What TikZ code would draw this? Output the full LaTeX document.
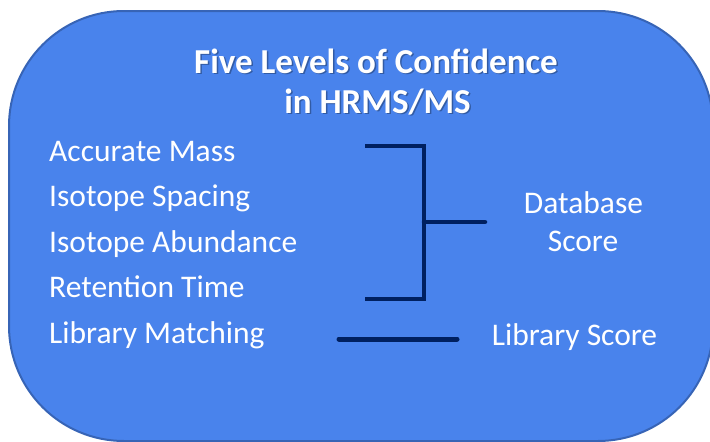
\documentclass[tikz,border=0pt]{standalone}
\usepackage{fontspec}
\setmainfont{Carlito}
\definecolor{boxfill}{RGB}{73,131,236}
\definecolor{boxedge}{RGB}{55,100,182}
\definecolor{navy}{RGB}{0,32,96}
\tikzset{
  item/.style={anchor=base west, inner sep=0pt, text=white, font=\fontsize{31.5}{36}\selectfont},
  score/.style={anchor=base, inner sep=0pt, text=white, align=center, font=\fontsize{31.5}{38}\selectfont},
  ttl/.style={anchor=base, inner sep=0pt, text=white, font=\bfseries\fontsize{35}{40}\selectfont},
  ttlshadow/.style={anchor=base, inner sep=0pt, text=black, opacity=0.3, font=\bfseries\fontsize{35}{40}\selectfont},
  link/.style={draw=navy, line width=4.5pt, line cap=round, line join=miter},
}
\begin{document}
\begin{tikzpicture}[x=1pt,y=-1pt]
\useasboundingbox (0,0) rectangle (710,442);
\clip (0,0) rectangle (710,442);
\draw[fill=boxfill, draw=boxedge, line width=2pt, rounded corners=115pt] (9,11) rectangle (713,441);
% title
\node[ttlshadow] (t1s) at (377.5,74.5) {Five Levels of Confidence};
\node[ttlshadow] (t2s) at (379,114.5) {in HRMS/MS};
\node[ttl] (t1) at (376,73) {Five Levels of Confidence};
\node[ttl] (t2) at (377.5,113) {in HRMS/MS};
% items
\node[item] (am) at (49,161) {Accurate Mass};
\node[item] (is) at (49,206.5) {Isotope Spacing};
\node[item] (ia) at (49,252) {Isotope Abundance};
\node[item] (rt) at (49,297.5) {Retention Time};
\node[item] (lm) at (49,343) {Library Matching};
% scores
\node[score] (db1) at (583.5,213) {Database};
\node[score] (db2) at (583,251) {Score};
\node[score] (ls) at (574.5,345) {Library Score};
% bracket
\coordinate (bt) at (365,146);
\coordinate (bb) at (365,299);
\coordinate (bv) at (424,222);
\coordinate (be) at (485,222);
\draw[link, line cap=butt] (bt) -| (bv) |- (bb);
\draw[link] (bv) -- (be);
% library line
\coordinate (l1) at (339,339);
\coordinate (l2) at (457,339);
\draw[link, line width=5pt] (l1) -- (l2);
\end{tikzpicture}
\end{document}
